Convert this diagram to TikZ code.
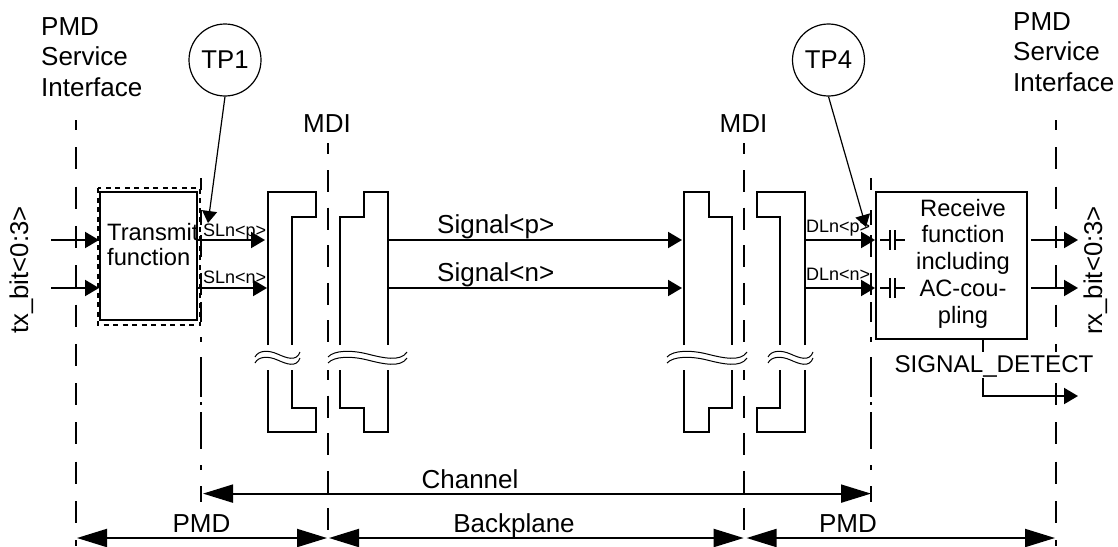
\documentclass[tikz,border=0pt]{standalone}
\usepackage{fontspec}
\setmainfont{Liberation Sans}
\usetikzlibrary{arrows.meta}
\newcommand\fsz[2]{\fontsize{#1pt}{#2pt}\selectfont}
\tikzset{
  lbl/.style={inner sep=0pt,anchor=base,font=\fsz{26}{30.5}},
  lblw/.style={lbl,anchor=base west},
  small/.style={inner sep=0pt,anchor=base west,font=\fsz{18}{18}},
  boxtext/.style={inner sep=0pt,anchor=base,font=\fsz{23.7}{26.7},align=center},
  rot/.style={inner sep=0pt,anchor=base,rotate=90,font=\fsz{25.7}{26}},
  block/.style={draw,line width=2pt,inner sep=0pt},
  tp/.style={draw,circle,line width=1.2pt,minimum size=72pt,inner sep=0pt,font=\fsz{25.7}{26}},
  wire/.style={line width=2pt},
  arr/.style={wire,-{Triangle[length=14pt,width=16pt]}},
  tparr/.style={line width=1.2pt,-{Triangle[length=12pt,width=15pt]}},
  dim/.style={wire,{Triangle[length=30pt,width=18pt]}-{Triangle[length=30pt,width=18pt]}},
  guideA/.style={line width=2pt,dash pattern=on 22pt off 17.3pt,dash phase=12pt},
  guideB/.style={line width=2pt,dash pattern=on 22pt off 15.6pt,dash phase=10.6pt},
  conn/.style={line width=2pt,line join=miter},
  wave/.style={line width=1pt},
  plate/.style={line width=2.4pt},
  lead/.style={line width=1.2pt}
}
\newcommand\breakwave[2]{%
  \pgfmathsetmacro\wvA{#1+0.08*(#2-#1)}%
  \pgfmathsetmacro\wvB{#1+0.30*(#2-#1)}%
  \pgfmathsetmacro\wvC{#1+0.50*(#2-#1)}%
  \pgfmathsetmacro\wvD{#1+0.70*(#2-#1)}%
  \pgfmathsetmacro\wvE{#1+0.92*(#2-#1)}%
  \draw[wave] (#1,357) .. controls (\wvA,350) and (\wvB,350) .. (\wvC,354) .. controls (\wvD,358) and (\wvE,362) .. (#2,352);
  \draw[wave] (#1,363) .. controls (\wvA,356) and (\wvB,356) .. (\wvC,360) .. controls (\wvD,364) and (\wvE,368) .. (#2,358);
}
\begin{document}
\begin{tikzpicture}[x=1pt,y=-1pt]
\useasboundingbox (0,0) rectangle (1118,546);
\fill[white] (0,0) rectangle (1118,546);

% guide lines
\draw[guideA] (76,120) -- (76,546);
\draw[guideA] (1056,120) -- (1056,546);
\draw[guideB] (328,143) -- (328,546);
\draw[guideB] (744,143) -- (744,546);
\foreach \gx in {201,871}{
  \foreach \ya/\yb in {178/190,210/225,235/257,273/295,302/322,337/342,357/397,402/405,412/449,465/470,486/502}{
    \draw[line width=2pt] (\gx,\ya) -- (\gx,\yb);
  }
}
\fill[white] (324,350) rectangle (332,370);
\fill[white] (740,350) rectangle (748,370);

% dashed enclosure and blocks
\draw[line width=2pt,dash pattern=on 5pt off 4.5pt] (98,188) rectangle (200,325);
\node[block,minimum width=97pt,minimum height=128pt] (tx) at (148.5,256) {};
\node[block,minimum width=151pt,minimum height=147pt] (rx) at (951.5,265.5) {};

% connector housings
\draw[conn] (268,345) -- (268,192) -- (316,192) -- (316,217) -- (292,217) -- (292,345);
\draw[conn] (268,370) -- (268,432) -- (316,432) -- (316,408) -- (292,408) -- (292,370);
\draw[conn] (340,345) -- (340,217) -- (364,217) -- (364,192) -- (388,192) -- (388,345);
\draw[conn] (340,370) -- (340,408) -- (364,408) -- (364,432) -- (388,432) -- (388,370);
\draw[conn] (684,345) -- (684,192) -- (709,192) -- (709,217) -- (732,217) -- (732,345);
\draw[conn] (684,370) -- (684,432) -- (709,432) -- (709,408) -- (732,408) -- (732,370);
\draw[conn] (805,345) -- (805,192) -- (757,192) -- (757,217) -- (780,217) -- (780,345);
\draw[conn] (805,370) -- (805,432) -- (757,432) -- (757,408) -- (780,408) -- (780,370);
\breakwave{255}{300}
\breakwave{328}{407}
\breakwave{667}{747}
\breakwave{768}{813}

% named ends
\coordinate (inp) at (51,240);
\coordinate (inn) at (51,288);
\coordinate (slp) at (265,240);
\coordinate (sln) at (267,288);
\coordinate (sigpa) at (388,240);
\coordinate (sigpb) at (682,240);
\coordinate (signa) at (388,288);
\coordinate (signb) at (682,288);
\coordinate (dlpa) at (805,240);
\coordinate (dlna) at (805,288);
\coordinate (outp) at (1078,240);
\coordinate (outn) at (1078,288);
\coordinate (sdbend) at (983,396);
\coordinate (sdend) at (1078,396);
\coordinate (tp1tip) at (208,223);
\coordinate (tp4tip) at (866,227);
\coordinate (chl) at (203,493.6);
\coordinate (chr) at (871,493.6);
\coordinate (pa) at (77,538);
\coordinate (pb) at (327,538);
\coordinate (ba) at (329,538);
\coordinate (bb) at (743.7,538);
\coordinate (qa) at (746.6,538);
\coordinate (qb) at (1055,538);

% arrows
\draw[arr] (inp) -- (inp -| tx.west);
\draw[arr] (inn) -- (inn -| tx.west);
\draw[arr] (slp -| tx.east) -- (slp);
\draw[arr] (sln -| tx.east) -- (sln);
\draw[arr] (sigpa) -- (sigpb);
\draw[arr] (signa) -- (signb);
\draw[arr] (dlpa) -- (dlpa -| rx.west);
\draw[arr] (dlna) -- (dlna -| rx.west);
\draw[arr] ([xshift=3pt]dlpa -| rx.east) -- (outp);
\draw[arr] ([xshift=3pt]dlna -| rx.east) -- (outn);
\draw[arr] (sdbend |- rx.south) -- (sdbend) -- (sdend);
\draw[dim] (chl) -- (chr);
\draw[dim] (pa) -- (pb);
\draw[dim] (ba) -- (bb);
\draw[dim] (qa) -- (qb);

% coupling capacitors
\foreach \cy in {240,288}{
  \draw[lead] (880,\cy) -- (890,\cy);
  \draw[lead] (895,\cy) -- (905,\cy);
  \draw[plate] (890,\cy-10) -- (890,\cy+10);
  \draw[plate] (895,\cy-10) -- (895,\cy+10);
}

% test points
\node[tp] (tp1) at (225,60) {\raisebox{-1.5pt}{TP1}};
\node[tp] (tp4) at (828.5,60) {\raisebox{-1.5pt}{TP4}};
\draw[tparr] (tp1.south) -- (tp1tip);
\draw[tparr] (tp4.south) -- (tp4tip);

% labels
\node[lblw,align=left] (psl) at (41,96) {PMD\\Service\\Interface};
\node[lblw,align=left] (psr) at (1013,91) {PMD\\Service\\Interface};
\node[lbl] (mdil) at (327,132) {MDI};
\node[lbl] (mdir) at (743.5,132) {MDI};
\node[rot] (txb) at (28,270) {tx\_bit<0:3>};
\node[rot] (rxb) at (1102,270.5) {rx\_bit<0:3>};
\node[boxtext,anchor=base west,align=left] (txt) at (107,265) {Transmit\\[-1.7pt]function};
\node[boxtext] (rxt) at (963,323) {Receive\\function\\including\\AC-cou-\\pling};
\node[small] (s1) at (203,236) {SLn<p>};
\node[small] (s2) at (203,283) {SLn<n>};
\node[small] (d1) at (806,232) {DLn<p>};
\node[small] (d2) at (806,280) {DLn<n>};
\node[lblw] (sp) at (437,233) {Signal<p>};
\node[lblw] (sn) at (437,281) {Signal<n>};
\node[lbl,fill=white,font=\fsz{24.2}{26},text height=20pt,text depth=6pt] (sd) at (994,372) {SIGNAL\_DETECT};
\node[lbl] (chan) at (470,488) {Channel};
\node[lbl] (pmdl) at (201.5,532) {PMD};
\node[lbl] (bp) at (514,532) {Backplane};
\node[lbl] (pmdr) at (848,532) {PMD};
\end{tikzpicture}
\end{document}
